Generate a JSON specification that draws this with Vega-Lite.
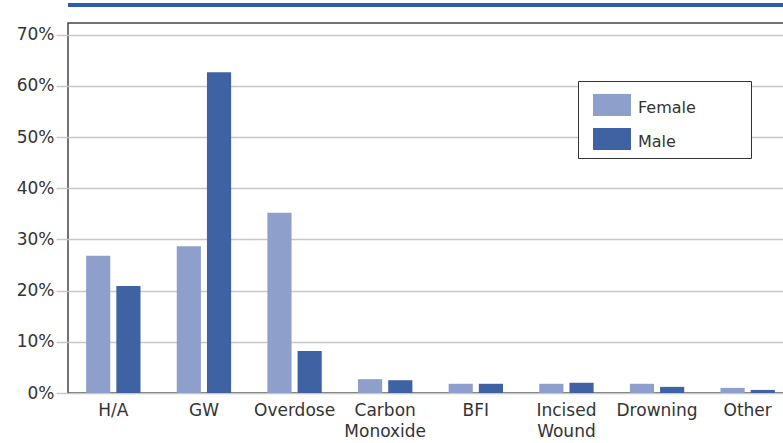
{
  "$schema": "https://vega.github.io/schema/vega-lite/v6.json",
  "autosize": {"type": "none"},
  "padding": {"left": 68, "top": 23, "right": -10, "bottom": 50},
  "width": 725,
  "height": 370,
  "background": "white",
  "config": {
    "view": {"stroke": "#444444", "strokeWidth": 1.5},
    "font": "DejaVu Sans",
    "axis": {"labelFont": "DejaVu Sans", "labelColor": "#333333"},
    "legend": {"labelFont": "DejaVu Sans", "labelColor": "#333333"}
  },
  "data": {
    "values": [
      {"cause": "H/A", "sex": "Female", "pct": 26.8},
      {"cause": "H/A", "sex": "Male", "pct": 20.9},
      {"cause": "GW", "sex": "Female", "pct": 28.7},
      {"cause": "GW", "sex": "Male", "pct": 62.7},
      {"cause": "Overdose", "sex": "Female", "pct": 35.2},
      {"cause": "Overdose", "sex": "Male", "pct": 8.2},
      {"cause": "Carbon Monoxide", "sex": "Female", "pct": 2.7},
      {"cause": "Carbon Monoxide", "sex": "Male", "pct": 2.5},
      {"cause": "BFI", "sex": "Female", "pct": 1.8},
      {"cause": "BFI", "sex": "Male", "pct": 1.8},
      {"cause": "Incised Wound", "sex": "Female", "pct": 1.8},
      {"cause": "Incised Wound", "sex": "Male", "pct": 2.0},
      {"cause": "Drowning", "sex": "Female", "pct": 1.8},
      {"cause": "Drowning", "sex": "Male", "pct": 1.2},
      {"cause": "Other", "sex": "Female", "pct": 1.0},
      {"cause": "Other", "sex": "Male", "pct": 0.6}
    ]
  },
  "layer": [
    {
      "mark": {"type": "bar"},
      "encoding": {
        "x": {
          "field": "cause",
          "type": "nominal",
          "sort": null,
          "scale": {"paddingInner": 0.4, "paddingOuter": 0.2},
          "axis": {
            "title": null,
            "ticks": false,
            "domain": false,
            "labelAngle": 0,
            "labelFontSize": 17,
            "labelPadding": 9,
            "labelLineHeight": 21,
            "labelExpr": "indexof(datum.label, ' ') > 0 ? split(datum.label, ' ') : datum.label"
          }
        },
        "xOffset": {
          "field": "sex",
          "type": "nominal",
          "scale": {"paddingInner": 0.2, "paddingOuter": 0}
        },
        "y": {
          "field": "pct",
          "type": "quantitative",
          "scale": {"domain": [0, 72.3], "nice": false},
          "axis": {
            "title": null,
            "values": [0, 10, 20, 30, 40, 50, 60, 70],
            "labelExpr": "datum.value + '%'",
            "labelFontSize": 17,
            "labelPadding": 2,
            "tickSize": 12,
            "tickColor": "#c8c8c8",
            "tickWidth": 1.5,
            "gridColor": "#c8c8c8",
            "gridWidth": 1.5,
            "domain": false
          }
        },
        "color": {
          "field": "sex",
          "type": "nominal",
          "scale": {"domain": ["Female", "Male"], "range": ["#8e9fcb", "#3f63a2"]},
          "legend": {
            "title": null,
            "orient": "none",
            "legendX": 510,
            "legendY": 58,
            "padding": 8,
            "strokeColor": "#333333",
            "fillColor": "white",
            "symbolType": "M-0.632,-0.737L1.368,-0.737L1.368,0.421L-0.632,0.421Z",
            "symbolSize": 1444,
            "symbolStrokeWidth": 0,
            "symbolOpacity": 1,
            "labelFontSize": 16,
            "labelOffset": 14,
            "rowPadding": 7,
            "labelExpr": "datum.label + '\u2800\u2800\u2800\u2800'"
          }
        }
      }
    },
    {
      "mark": {"type": "rule", "color": "#2a5ea8", "strokeWidth": 2.5, "clip": false},
      "encoding": {"y": {"datum": 75.8}}
    }
  ]
}
